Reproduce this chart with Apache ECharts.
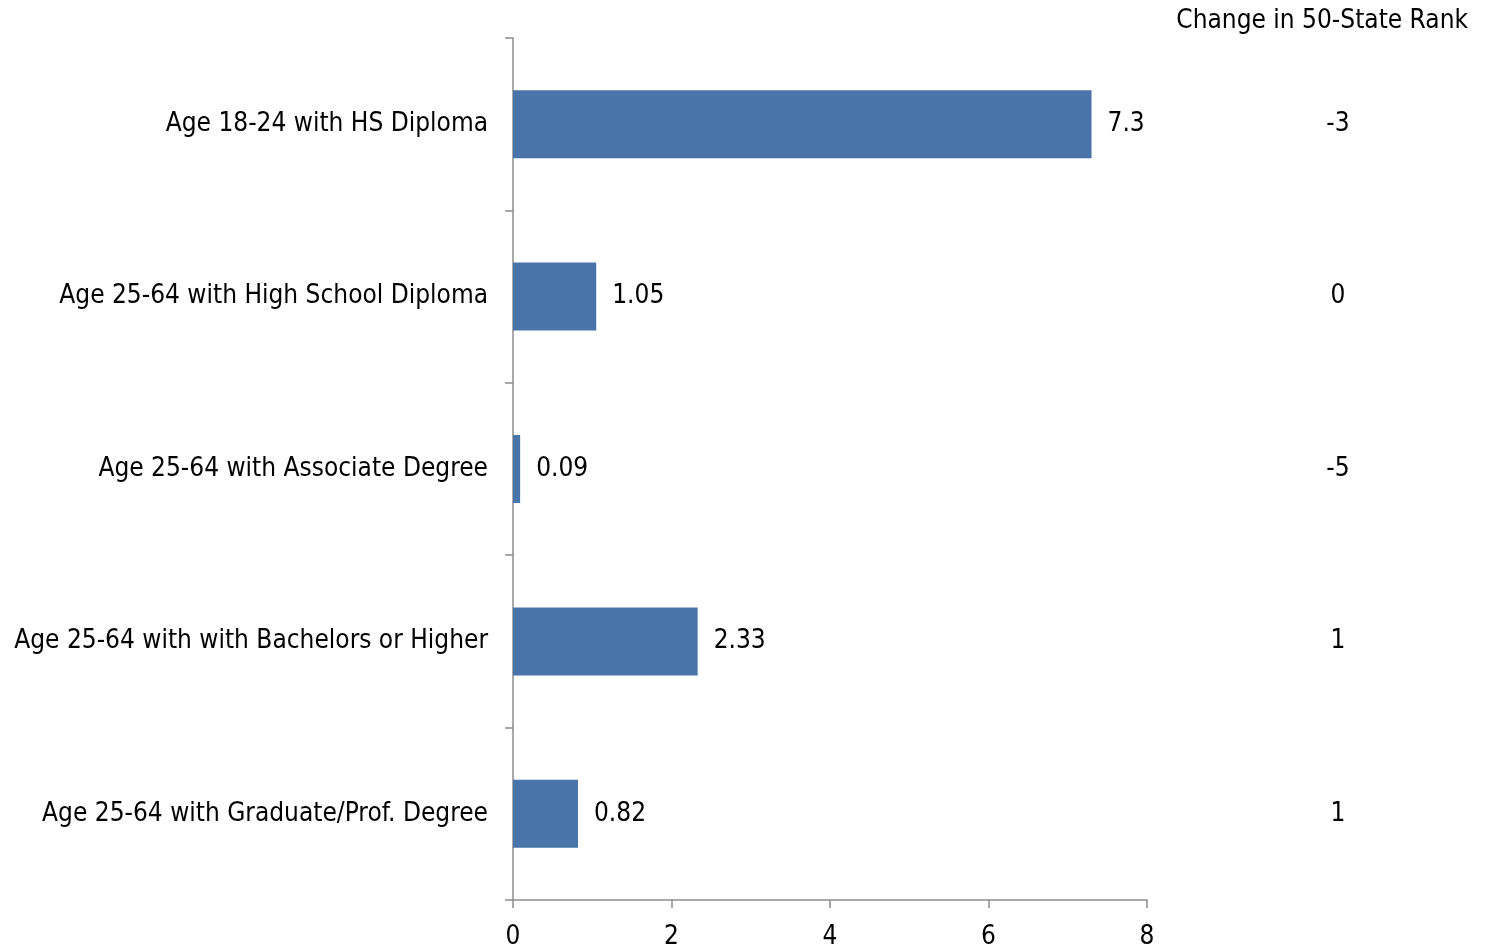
<!DOCTYPE html>
<html>
<head>
<meta charset="utf-8">
<script src="https://cdn.jsdelivr.net/npm/echarts@6/dist/echarts.min.js"></script>
<style>
html,body{margin:0;padding:0;background:#fff;}
#chart{width:1485px;height:950px;}
</style>
</head>
<body>
<div id="chart"></div>
<script>
const categories = [
  "Age 18-24 with HS Diploma",
  "Age 25-64 with High School Diploma",
  "Age 25-64 with Associate Degree",
  "Age 25-64 with with Bachelors or Higher",
  "Age 25-64 with Graduate/Prof. Degree"
];
const values = [7.3, 1.05, 0.09, 2.33, 0.82];
const valueLabels = ["7.3", "1.05", "0.09", "2.33", "0.82"];
const rankChanges = ["-3", "0", "-5", "1", "1"];
const rankHeader = "Change in 50-State Rank";
const xTicks = [0, 2, 4, 6, 8];

const FONT = "'DejaVu Sans Condensed', 'DejaVu Sans', sans-serif";
const FS = 26;
const AXIS_COLOR = '#8c8c8c';
const chart = echarts.init(document.getElementById('chart'), null, {renderer: 'canvas'});
chart.setOption({
  animation: false,
  backgroundColor: '#fff',
  textStyle: {fontFamily: FONT},
  title: {
    text: rankHeader,
    right: 12,
    top: 3,
    textStyle: {fontFamily: FONT, fontSize: FS, fontWeight: 'normal', color: '#000'}
  },
  grid: {left: 513, right: 338, top: 38, bottom: 49, containLabel: false},
  xAxis: {
    type: 'value',
    min: xTicks[0],
    max: xTicks[xTicks.length - 1],
    interval: 2,
    splitLine: {show: false},
    axisLine: {show: true, lineStyle: {color: AXIS_COLOR, width: 1.5}},
    axisTick: {show: true, length: 8, lineStyle: {color: AXIS_COLOR, width: 1.5}},
    axisLabel: {color: '#000', fontSize: FS, fontFamily: FONT, margin: 24}
  },
  yAxis: [{
    type: 'category',
    data: categories,
    inverse: true,
    axisLine: {show: true, lineStyle: {color: AXIS_COLOR, width: 1.5}},
    axisTick: {show: true, length: 8, lineStyle: {color: AXIS_COLOR, width: 1.5}},
    axisLabel: {color: '#000', fontSize: FS, fontFamily: FONT, margin: 25, padding: [5, 0, 0, 0]}
  }, {
    type: 'category',
    data: rankChanges,
    inverse: true,
    position: 'right',
    axisLine: {show: false},
    axisTick: {show: false},
    axisLabel: {color: '#000', fontSize: FS, fontFamily: FONT, align: 'center', margin: 191, padding: [5, 0, 0, 0]}
  }],
  series: [{
    type: 'bar',
    data: values,
    yAxisIndex: 0,
    barWidth: 68,
    itemStyle: {color: '#4874AA'},
    label: {
      show: true,
      position: 'right',
      distance: 16,
      color: '#000',
      fontSize: FS,
      fontFamily: FONT,
      padding: [5, 0, 0, 0],
      formatter: p => valueLabels[p.dataIndex]
    }
  }]
});
</script>
</body>
</html>
